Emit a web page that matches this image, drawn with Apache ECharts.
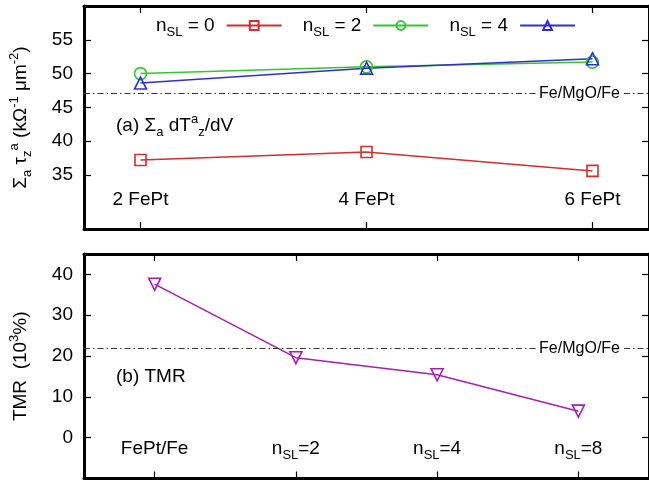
<!DOCTYPE html>
<html>
<head>
<meta charset="utf-8">
<script src="https://cdn.jsdelivr.net/npm/echarts@6/dist/echarts.min.js"></script>
<style>html,body{margin:0;padding:0;background:#fff}#c{width:649px;height:481px}</style>
</head>
<body>
<div id="c"></div>
<script>
// ---- data ----
const topCategories = ['2 FePt', '4 FePt', '6 FePt'];
const nsl0 = [37.2, 38.4, 35.6];
const nsl2 = [50.0, 51.0, 51.7];
const nsl4 = [48.6, 50.8, 52.2];
const topRef = 47.1;
const topYTicks = [35, 40, 45, 50, 55];

const bottomCategories = ['FePt/Fe', 'n_SL=2', 'n_SL=4', 'n_SL=8'];
const tmr = [37.6, 19.6, 15.4, 6.5];
const bottomRef = 21.8;
const bottomYTicks = [0, 10, 20, 30, 40];

const refLabel = 'Fe/MgO/Fe';
const seriesNames = ['n_SL = 0', 'n_SL = 2', 'n_SL = 4'];

// ---- helpers ----
const FONT = 'Liberation Sans, Arial, Helvetica, sans-serif';
function makeRich(big, small, lh) {
  return {
    m: {fontSize: big, fontFamily: FONT, fontWeight: 'normal', color: '#000', lineHeight: lh},
    s: {fontSize: small, fontFamily: FONT, fontWeight: 'normal', color: '#000', lineHeight: small, verticalAlign: 'bottom'},
    p: {fontSize: small, fontFamily: FONT, fontWeight: 'normal', color: '#000', lineHeight: small, verticalAlign: 'top'}
  };
}
const rich = makeRich(19, 13, 26);
function subLabel(t) {
  const i = t.indexOf('_');
  if (i < 0) return '{m|' + t + '}';
  const rest = t.slice(i + 1);
  const m = rest.match(/^([A-Za-z]+)(.*)$/);
  return '{m|' + t.slice(0, i) + '}{s|' + m[1] + '}{m|' + m[2] + '}';
}
const pts = arr => arr.map((v, i) => [i, v]);
const idx = n => Array.from({length: n}, (_, i) => i);

const axisLine = {show: true, onZero: false, lineStyle: {color: '#000', width: 3}};
const tickStyle = {color: '#000', width: 1.2};

function xAxes(gridIndex, cats, pad, margin) {
  const ticks = idx(cats.length);
  return [
    {
      type: 'value', gridIndex, position: 'bottom', min: -pad, max: cats.length - 1 + pad,
      axisLine, splitLine: {show: false},
      axisTick: {show: true, inside: true, length: 7, lineStyle: tickStyle, customValues: ticks},
      axisLabel: {show: true, inside: true, margin, customValues: ticks, rich,
        formatter: v => subLabel(cats[Math.round(v)])}
    },
    {
      type: 'value', gridIndex, position: 'top', min: -pad, max: cats.length - 1 + pad,
      axisLine, splitLine: {show: false},
      axisTick: {show: true, inside: true, length: 7, lineStyle: tickStyle, customValues: ticks},
      axisLabel: {show: false}
    }
  ];
}
function yAxes(gridIndex, min, max, ticks, name) {
  return [
    {
      type: 'value', gridIndex, position: 'left', min, max,
      axisLine, splitLine: {show: false},
      axisTick: {show: true, inside: true, length: 7, lineStyle: tickStyle, customValues: ticks},
      axisLabel: {show: true, margin: 11, customValues: ticks, fontSize: 19, fontFamily: FONT, color: '#000'},
      name, nameLocation: 'middle', nameGap: 50, nameRotate: 90,
      nameTextStyle: {rich}
    },
    {
      type: 'value', gridIndex, position: 'right', min, max,
      axisLine, splitLine: {show: false},
      axisTick: {show: true, inside: true, length: 7, lineStyle: tickStyle, customValues: ticks},
      axisLabel: {show: false}
    }
  ];
}
function refMarkLine(y) {
  return {
    silent: true, symbol: 'none',
    lineStyle: {color: '#333', width: 1, type: [6, 3, 1.5, 3]},
    label: {show: true, position: 'insideEnd', distance: 27, formatter: refLabel,
      fontSize: 16, fontFamily: FONT, color: '#000', backgroundColor: '#fff', padding: [1, 2]},
    data: [{yAxis: y}]
  };
}
function lineSeries(name, data, color, symbol, size, rotate, xi, yi) {
  return {
    name, type: 'line', data: pts(data), xAxisIndex: xi, yAxisIndex: yi,
    symbol, symbolSize: size, symbolRotate: rotate || 0, showAllSymbol: true,
    lineStyle: {color, width: 1.5},
    itemStyle: {color: 'transparent', borderColor: color, borderWidth: 1.6},
    emphasis: {disabled: true}, animation: false, z: 3
  };
}

const RED = '#d22f2f', GREEN = '#33c633', BLUE = '#3030c8', PURPLE = '#a51fb5';

const s0 = lineSeries(seriesNames[0], nsl0, RED, 'rect', 11, 0, 0, 0);
const s1 = lineSeries(seriesNames[1], nsl2, GREEN, 'circle', 12, 0, 0, 0);
const s2 = lineSeries(seriesNames[2], nsl4, BLUE, 'triangle', 12, 0, 0, 0);
s0.markLine = refMarkLine(topRef);
const s3 = lineSeries('TMR', tmr, PURPLE, 'triangle', 12, 180, 2, 2);
s3.markLine = refMarkLine(bottomRef);

const option = {
  animation: false,
  backgroundColor: '#fff',
  grid: [
    {left: 83, top: 6, width: 571, height: 223},
    {left: 83, top: 254, width: 571, height: 224.5}
  ],
  xAxis: [...xAxes(0, topCategories, 0.25, 16), ...xAxes(1, bottomCategories, 0.5, 17)],
  yAxis: [
    ...yAxes(0, 27, 60, topYTicks, '{m|Σ}{s|a}{m| τ}{s|z}{p|a}{m| (kΩ}{p|-1}{m| μm}{p|-2}{m|)}'),
    ...yAxes(1, -10, 45, bottomYTicks, '{m|TMR  (10}{p|3}{m|%)}')
  ],
  legend: {
    data: seriesNames, left: 151, top: 11, align: 'right', itemWidth: 55, itemHeight: 11,
    itemGap: 20, selectedMode: false,
    formatter: n => subLabel(n),
    textStyle: {rich, padding: [0, 7, 0, 0]}
  },
  title: [
    {text: '{m|(a) Σ}{s|a}{m| dT}{p|a}{s|z}{m|/dV}', left: 116, top: 113, padding: 0,
      textStyle: {rich, fontWeight: 'normal'}},
    {text: '{m|(b) TMR}', left: 116, top: 364, padding: 0, textStyle: {rich, fontWeight: 'normal'}}
  ],
  series: [s0, s1, s2, s3]
};

const chart = echarts.init(document.getElementById('c'), null, {renderer: 'canvas'});
chart.setOption(option);
</script>
</body>
</html>
